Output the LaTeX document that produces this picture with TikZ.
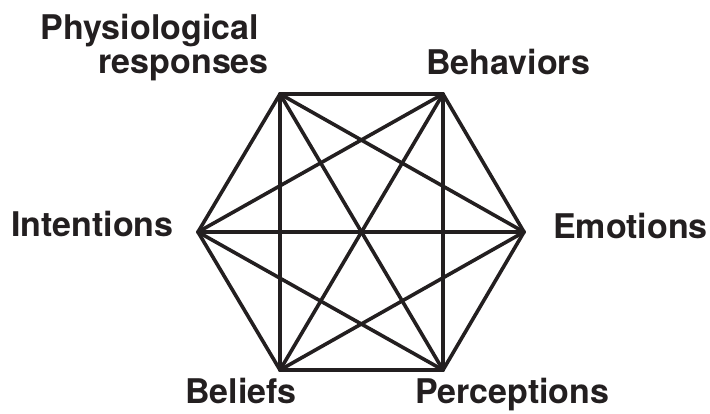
\documentclass[tikz,border=0pt]{standalone}
\usepackage{fontspec}
\setmainfont{TeX Gyre Heros}
\definecolor{ink}{HTML}{231F20}
\begin{document}
\begin{tikzpicture}[x=1pt,y=-1pt,
  lbl/.style={inner sep=0pt,font=\fontsize{34}{36}\selectfont\bfseries,text=ink},
  edge/.style={draw=ink,line width=3.6pt,line cap=round,line join=miter}]
\useasboundingbox (0,0) rectangle (710,413);
\coordinate (tl) at (280,94);
\coordinate (tr) at (443,94);
\coordinate (r) at (524,232);
\coordinate (br) at (443,370);
\coordinate (bl) at (280,370);
\coordinate (l) at (198,232);
\foreach \a/\b in {tl/tr,tr/r,r/br,br/bl,bl/l,l/tl,tl/r,tl/br,tl/bl,tr/br,tr/bl,tr/l,r/bl,r/l,br/l}
  \draw[edge] (\a) -- (\b);
\node[lbl,anchor=base east] (physA) at (259,39) {Physiological};
\node[lbl,anchor=base east] (physB) at (269,73) {responses};
\node[lbl,anchor=base west] (beh) at (426,74) {Behaviors};
\node[lbl,anchor=base west] (emo) at (553,238) {Emotions};
\node[lbl,anchor=base west] (int) at (11,236) {Intentions};
\node[lbl,anchor=base west] (bel) at (185,403) {Beliefs};
\node[lbl,anchor=base west] (per) at (415,403) {Perceptions};
\end{tikzpicture}
\end{document}
